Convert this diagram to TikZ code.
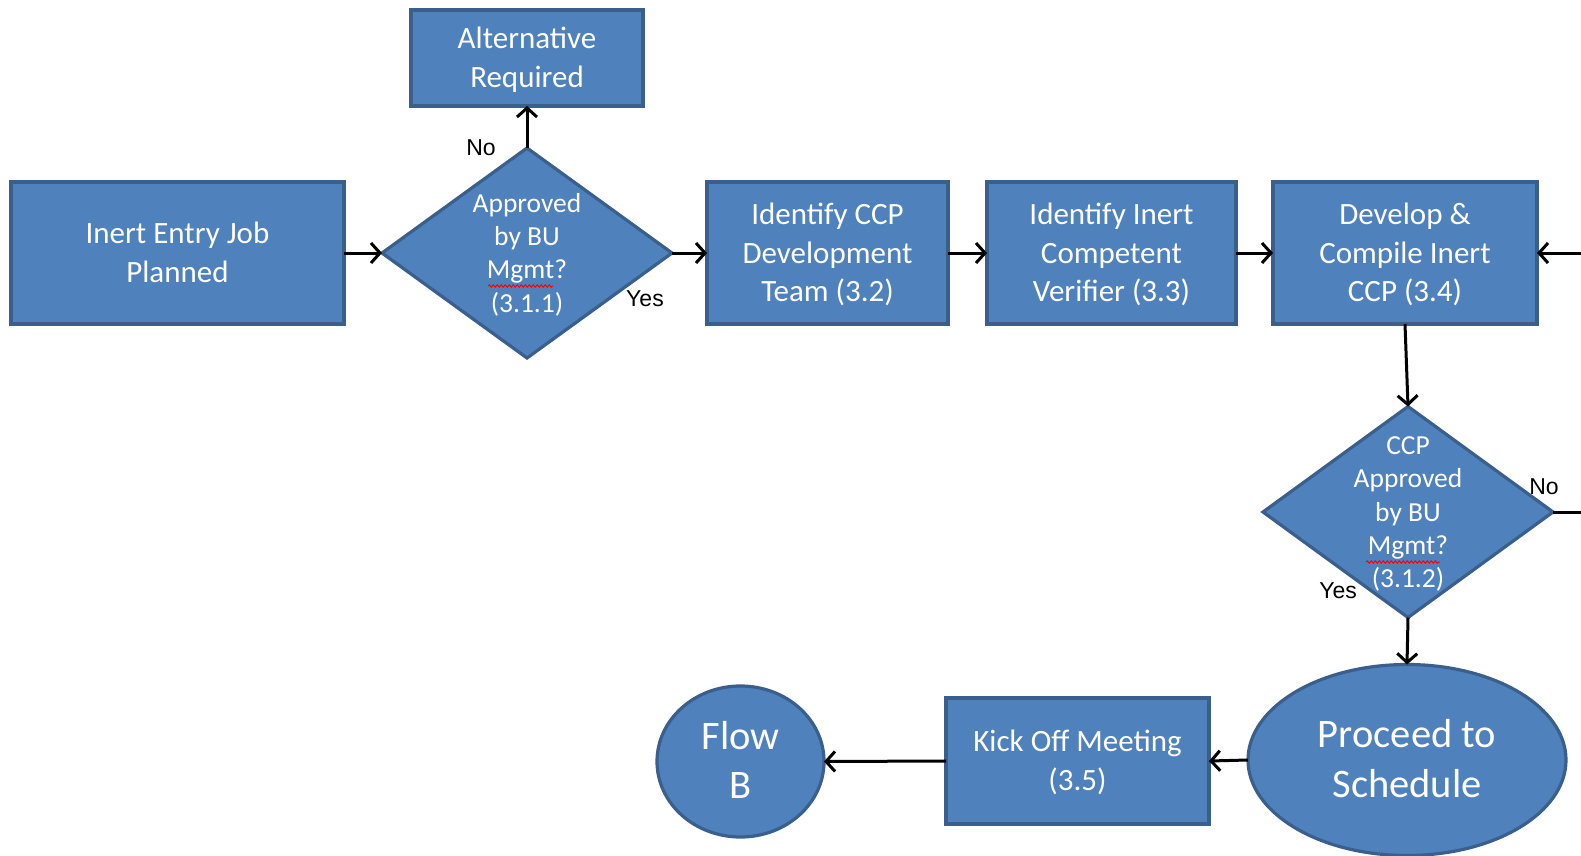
\documentclass[tikz,border=0pt]{standalone}
\usepackage{fontspec}
\setmainfont{Carlito}
\newfontfamily\labfont{Liberation Sans}
\usetikzlibrary{shapes.geometric,arrows.meta,decorations.pathmorphing,calc}
\definecolor{boxfill}{HTML}{4F81BD}
\definecolor{boxline}{HTML}{3A5F8C}
\newcommand\ctext[1]{\vbox to 0pt{\vss\hbox to 0pt{\hss\begin{tabular}{@{}c@{}}#1\end{tabular}\hss}\vss\kern-5pt}}
\tikzset{
  base/.style={fill=boxfill,draw=boxline,line width=3.2pt,text=white,inner sep=0pt,outer sep=0pt},
  procbox/.style={base,rectangle,font=\fontsize{31}{38.5}\selectfont},
  decbox/.style={base,diamond,font=\fontsize{27.5}{33.3}\selectfont},
  termbox/.style={base,ellipse,font=\fontsize{40.5}{49.5}\selectfont},
  conn/.style={line width=3pt,draw=black},
  arr/.style={conn,-{Straight Barb[length=9pt,width=20pt,line width=3pt]}},
  lab/.style={font=\labfont\fontsize{23}{27}\selectfont,text=black,inner sep=0pt},
  spell/.style={draw=red,line width=1pt,decorate,decoration={snake,amplitude=1.2pt,segment length=4pt}}
}
\begin{document}
\begin{tikzpicture}[x=1pt,y=-1pt]
\useasboundingbox[fill=white] (0,0) rectangle (1581,856);
\node[procbox,minimum width=232pt,minimum height=96pt] (alt) at (527,58) {\ctext{Alternative\\Required}};
\node[procbox,minimum width=333pt,minimum height=142pt] (inert) at (177.5,253) {\ctext{Inert Entry Job\\Planned}};
\node[decbox,minimum width=290pt,minimum height=210pt] (d1) at (527,253) {\ctext{Approved\\by BU\\Mgmt?\\(3.1.1)}};
\node[procbox,minimum width=241pt,minimum height=142pt] (ccp) at (827.5,253) {\ctext{Identify CCP\\Development\\Team (3.2)}};
\node[procbox,minimum width=249pt,minimum height=142pt] (icv) at (1111.5,253) {\ctext{Identify Inert\\Competent\\Verifier (3.3)}};
\node[procbox,minimum width=264pt,minimum height=142pt] (dev) at (1405,253) {\ctext{Develop \&\\Compile Inert\\CCP (3.4)}};
\node[decbox,minimum width=290pt,minimum height=211pt] (d2) at (1408,512) {\ctext{CCP\\Approved\\by BU\\Mgmt?\\(3.1.2)}};
\node[termbox,minimum width=318pt,minimum height=191pt] (proc) at (1407,760) {\ctext{Proceed to\\Schedule}};
\node[procbox,minimum width=263pt,minimum height=126pt] (kick) at (1077.5,761) {\ctext{Kick Off Meeting\\(3.5)}};
\node[termbox,minimum width=167pt,minimum height=151pt] (flow) at (740.5,761.5) {\ctext{Flow\\B}};
\coordinate (rin) at (1581,253);
\coordinate (rout) at (1581,512);
% spell-check marks
\draw[spell] ($(d1.center)+(-39,33)$) -- ($(d1.center)+(26,33)$);
\draw[spell] ($(d2.center)+(-42,50)$) -- ($(d2.center)+(32,50)$);
% connectors
\draw[arr] (inert) -- (d1.west);
\draw[arr] (d1.north) -- (alt.south);
\draw[arr] (d1.east) -- (ccp.west);
\draw[arr] (ccp) -- (icv);
\draw[arr] (icv) -- (dev);
\draw[arr] (rin) -- (dev.east);
\draw[arr] (dev.south) -- (d2.north);
\draw[conn] (d2.east) -- (rout);
\draw[arr] (d2.south) -- (proc.north);
\draw[arr] (proc.west) -- (kick.east);
\draw[arr] (kick.west) -- (flow.east);
% labels
\node[lab] (l1) at (481,148) {No};
\node[lab] (l2) at (645,299) {Yes};
\node[lab] (l3) at (1544,487) {No};
\node[lab] (l4) at (1338,591) {Yes};
\end{tikzpicture}
\end{document}
